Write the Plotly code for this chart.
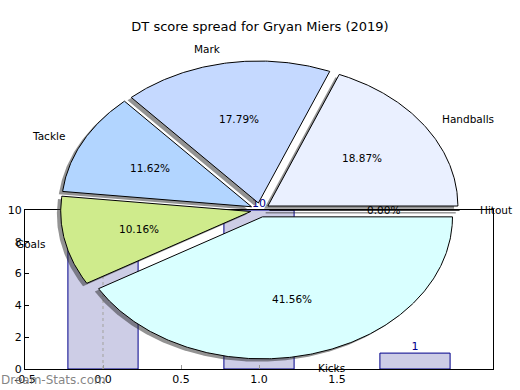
import numpy as np
import plotly.graph_objects as go

# ---------------- data ----------------
title_text = "DT score spread for Gryan Miers (2019)"
pie_labels = ["Handballs", "Mark", "Tackle", "Goals", "Kicks", "Hitout"]
pie_values = [18.87, 17.79, 11.62, 10.16, 41.56, 0.00]
pie_colors = ["#eaf0ff", "#c5d9ff", "#b2d5ff", "#cfeb8c", "#d9ffff", "#ffffff"]

bar_x = [0, 1, 2]
bar_y = [8, 10, 1]
x_ticks = [-0.5, 0.0, 0.5, 1.0, 1.5]
y_ticks = [0, 2, 4, 6, 8, 10]
watermark = "Dream-Stats.com"

# ---------------- style ----------------
FONT = "DejaVu Sans"
W, H = 520, 390
explode = 0.05
shadow_off = 0.02
label_dist = 1.1
pct_dist = 0.6

fig = go.Figure()

# ---- bar chart (underneath) ----
fig.add_trace(go.Bar(
    x=bar_x, y=bar_y, width=0.45,
    marker=dict(color="#cdcde6", line=dict(color="#00008b", width=1)),
    xaxis="x", yaxis="y", showlegend=False,
))
fig.add_trace(go.Scatter(
    x=[bar_x[0], bar_x[0]], y=[0, max(bar_y)], mode="lines",
    line=dict(color="#aaaaaa", width=1.2, dash="dot"),
    xaxis="x", yaxis="y", showlegend=False, hoverinfo="skip",
))
fig.add_trace(go.Scatter(
    x=bar_x, y=bar_y, mode="text", text=[str(v) for v in bar_y],
    textposition="top center", cliponaxis=False,
    textfont=dict(family=FONT, size=11, color="#00008b"),
    xaxis="x", yaxis="y", showlegend=False, hoverinfo="skip",
))

# ---- pie (drawn as wedges in an overlay subplot, stretched like the original) ----
total = sum(pie_values)
theta1 = 0.0
annotations = []
for lab, val, col in zip(pie_labels, pie_values, pie_colors):
    theta2 = theta1 + 360.0 * val / total
    m = np.deg2rad((theta1 + theta2) / 2)
    cx, cy = explode * np.cos(m), explode * np.sin(m)
    t = np.deg2rad(np.linspace(theta1, theta2, max(2, int(abs(theta2 - theta1) * 2) + 2)))
    xs = np.concatenate([[cx], cx + np.cos(t), [cx]])
    ys = np.concatenate([[cy], cy + np.sin(t), [cy]])
    # shadow
    fig.add_trace(go.Scatter(
        x=xs - shadow_off, y=ys - shadow_off, mode="lines", fill="toself",
        fillcolor="rgba(40,40,40,0.5)",
        line=dict(color="rgba(40,40,40,0.5)", width=0.8 if val == 0 else 0),
        xaxis="x2", yaxis="y2", showlegend=False, hoverinfo="skip",
    ))
    # wedge
    fig.add_trace(go.Scatter(
        x=xs, y=ys, mode="lines", fill="toself", fillcolor=col,
        line=dict(color="black", width=1),
        xaxis="x2", yaxis="y2", showlegend=False, hoverinfo="skip",
    ))
    xt = cx + label_dist * np.cos(m)
    yt = cy + label_dist * np.sin(m)
    annotations.append(dict(
        x=xt, y=yt, xref="x2", yref="y2", text=lab, showarrow=False,
        xanchor="left" if xt > 0 else "right", yanchor="middle", borderpad=0,
        font=dict(family=FONT, size=10.5, color="black"),
    ))
    xp = cx + pct_dist * np.cos(m)
    yp = cy + pct_dist * np.sin(m)
    annotations.append(dict(
        x=xp, y=yp, xref="x2", yref="y2", text=f"{val:.2f}%", showarrow=False,
        xanchor="center", yanchor="middle", borderpad=0,
        font=dict(family=FONT, size=10.5, color="black"),
    ))
    theta1 = theta2

annotations.append(dict(
    x=0, y=10 / H, xref="paper", yref="paper", text=watermark, showarrow=False,
    xanchor="left", yanchor="middle", borderpad=0,
    font=dict(family=FONT, size=12, color="rgba(110,110,110,0.85)"),
))

# pie geometry in pixels
pcx, pcy = 260, 210  # centre (from top)
rx, ry = 190, 142

fig.update_layout(
    width=W, height=H, template="none",
    margin=dict(l=0, r=0, t=0, b=0),
    paper_bgcolor="white", plot_bgcolor="rgba(0,0,0,0)",
    showlegend=False, hovermode=False,
    title=dict(text=title_text, x=0.5, xanchor="center", y=1 - 26 / H, yanchor="middle",
               font=dict(family=FONT, size=13, color="black")),
    xaxis=dict(domain=[25 / W, 493 / W], range=[-0.5, 2.5], showgrid=False, zeroline=False,
               showline=True, mirror=True, linecolor="black", linewidth=1,
               ticks="inside", ticklen=4, tickcolor="#999999",
               tickvals=x_ticks, ticktext=[f"{v:.1f}" for v in x_ticks],
               tickfont=dict(family=FONT, size=11, color="black"), automargin=False),
    yaxis=dict(domain=[21 / H, 180 / H], range=[0, 10], showgrid=False, zeroline=False,
               showline=True, mirror=True, linecolor="black", linewidth=1,
               ticks="inside", ticklen=4, tickcolor="black",
               tickvals=y_ticks, ticktext=[str(v) for v in y_ticks],
               tickfont=dict(family=FONT, size=11, color="black"), automargin=False),
    xaxis2=dict(domain=[0, 1], range=[-pcx / rx, (W - pcx) / rx], visible=False,
                anchor="y2", automargin=False),
    yaxis2=dict(domain=[0, 1], range=[-(H - pcy) / ry, pcy / ry], visible=False,
                anchor="x2", automargin=False),
    annotations=annotations,
)

fig.write_html("out.html", config={"displayModeBar": False, "staticPlot": True},
               post_script="document.body.style.margin='0px';document.body.style.overflow='hidden';")
